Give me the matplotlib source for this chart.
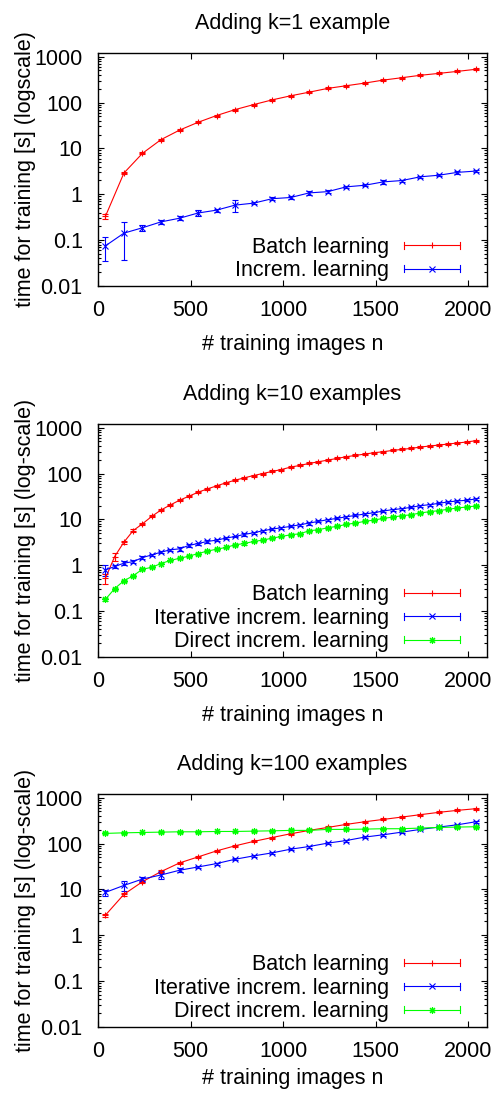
import matplotlib
matplotlib.use('Agg')
import matplotlib.pyplot as plt
from matplotlib.lines import Line2D
from matplotlib.legend_handler import HandlerBase
from matplotlib.ticker import LogLocator, NullFormatter, FixedLocator

plt.rcParams['font.family'] = ['Liberation Sans', 'DejaVu Sans']
FS = 15.5

# ---- data: panel 1 (k=1) ----
n_k1 = [40, 140, 240, 340, 440, 540, 640, 740, 840, 940, 1040,
        1140, 1240, 1340, 1440, 1540, 1640, 1740, 1840, 1940, 2040]
batch_k1 = [0.33, 2.9, 7.8, 15.5, 25, 37, 52, 70, 90, 114, 140,
            168, 203, 232, 265, 308, 347, 392, 431, 477, 530]
batch_k1_err = [0.035, 0.15, 0.4, 0.8, 1.2, 1.8, 2.5, 3.5, 4.5, 5.5, 7,
                8, 10, 11, 13, 15, 17, 19, 21, 23, 26]
incr_k1 = [0.075, 0.142, 0.186, 0.25, 0.30, 0.39, 0.45, 0.58, 0.64, 0.80, 0.85,
           1.07, 1.14, 1.45, 1.57, 1.86, 1.99, 2.4, 2.6, 3.0, 3.2]
incr_k1_err = [0.04, 0.105, 0.03, 0.02, 0.03, 0.06, 0.03, 0.17, 0.04, 0.06, 0.05,
               0.09, 0.07, 0.09, 0.09, 0.16, 0.1, 0.15, 0.13, 0.2, 0.18]

# ---- data: panel 2 (k=10) ----
n_k10 = [40, 90, 140, 190, 240, 290, 340, 390, 440, 490, 540, 590, 640, 690,
         740, 790, 840, 890, 940, 990, 1040, 1090, 1140, 1190, 1240, 1290,
         1340, 1390, 1440, 1490, 1540, 1590, 1640, 1690, 1740, 1790, 1840,
         1890, 1940, 1990, 2040]
batch_k10 = [0.52, 1.55, 3.19, 5.7, 8.0, 11.6, 16.0, 20.6, 26.1, 31.9, 39.0,
             46.1, 53.7, 62.5, 71.5, 80.4, 90.4, 100, 111, 122, 138, 150, 166,
             180, 196, 213, 232, 248, 265, 284, 298, 319, 335, 353, 377, 397,
             417, 439, 462, 486, 519]
batch_k10_err = [0.13, 0.3, 0.25, 0.4, 0.4, 0.6, 0.8, 1.0, 1.3, 1.6, 2.0, 2.3,
                 2.7, 3.1, 3.6, 4.0, 4.5, 5, 5.5, 6, 7, 7.5, 8, 9, 10, 11, 12,
                 12, 13, 14, 15, 16, 17, 18, 19, 20, 21, 22, 23, 24, 26]
iter_k10 = [0.79, 0.94, 1.11, 1.2, 1.47, 1.68, 1.93, 2.17, 2.28, 2.7, 2.98,
            3.3, 3.53, 3.9, 4.24, 4.7, 5.1, 5.65, 6.14, 6.57, 7.03, 7.64, 8.3,
            9.04, 9.84, 10.5, 11.4, 12.2, 13.1, 14.0, 15.2, 16.3, 17.1, 18.3,
            19.9, 20.9, 22.4, 24.0, 25.2, 26.1, 27.9]
iter_k10_err = [0.2, 0.06, 0.12, 0.08, 0.1, 0.08, 0.1, 0.12, 0.2, 0.15, 0.15,
                0.2, 0.2, 0.2, 0.2, 0.25, 0.25, 0.3, 0.3, 0.35, 0.35, 0.4, 0.6,
                0.45, 0.5, 0.5, 0.55, 0.6, 0.65, 0.7, 0.75, 0.8, 0.85, 0.9, 1.0,
                1.0, 1.1, 1.2, 1.3, 1.3, 1.4]
direct_k10 = [0.18, 0.31, 0.46, 0.59, 0.82, 0.90, 1.09, 1.27, 1.42, 1.57, 1.80,
              2.03, 2.24, 2.44, 2.79, 2.98, 3.30, 3.53, 3.90, 4.24, 4.62, 4.85,
              5.65, 5.94, 6.57, 7.03, 7.78, 8.31, 9.04, 9.67, 10.5, 11.2, 12.0,
              12.6, 13.8, 14.7, 15.5, 16.6, 17.7, 18.6, 19.6]
direct_k10_err = [0.01, 0.015, 0.02, 0.03, 0.05, 0.04, 0.05, 0.06, 0.07, 0.08,
                  0.09, 0.1, 0.11, 0.12, 0.14, 0.15, 0.16, 0.18, 0.2, 0.21,
                  0.23, 0.24, 0.3, 0.3, 0.33, 0.35, 0.39, 0.42, 0.45, 0.48,
                  0.5, 0.56, 0.6, 0.63, 0.7, 0.74, 0.78, 0.83, 0.9, 0.93, 1.0]

# ---- data: panel 3 (k=100) ----
n_k100 = n_k1
batch_k100 = [2.74, 7.8, 14.7, 24.4, 37.7, 51, 69, 89, 111, 135, 163,
              193, 224, 261, 298, 335, 377, 425, 478, 528, 574]
batch_k100_err = [0.2, 0.5, 1.2, 1.8, 2, 2.5, 3.5, 4.5, 5.5, 7, 8,
                  10, 11, 13, 15, 17, 19, 21, 24, 26, 29]
iter_k100 = [8.6, 12.2, 16.8, 20.6, 26.1, 30.8, 36.5, 45.4, 53.7, 62.5, 75.2,
             86, 102, 116, 138, 155, 177, 203, 228, 256, 298]
iter_k100_err = [1.3, 3.0, 1.5, 4.0, 2.7, 1.5, 1.8, 2.3, 2.7, 3.1, 3.8,
                 4.3, 5, 6, 7, 8, 9, 10, 11, 13, 15]
direct_k100 = [166, 171, 174, 177, 180, 180, 183, 183, 186, 189, 193,
               193, 203, 203, 206, 210, 210, 217, 224, 228, 232]
direct_k100_err = [8, 8, 8, 9, 9, 9, 9, 9, 9, 9, 10,
                   10, 10, 10, 10, 10, 11, 11, 11, 11, 12]

RED = '#ff0000'
BLUE = '#0000ff'
GREEN = '#00ff00'
ASTER = (8, 2, 0)


class HandlerGnuErr(HandlerBase):
    # gnuplot style key sample: line with end caps and point in the middle
    def create_artists(self, legend, orig, xdescent, ydescent, width, height,
                       fontsize, trans):
        y = height / 2 - ydescent
        x0, x1 = -xdescent, width - xdescent
        c = orig.get_color()
        arts = [Line2D([x0, x1], [y, y], color=c, lw=0.8),
                Line2D([x0, x0], [y - 2.5, y + 2.5], color=c, lw=0.8),
                Line2D([x1, x1], [y - 2.5, y + 2.5], color=c, lw=0.8),
                Line2D([(x0 + x1) / 2], [y], color=c, ls='none',
                       marker=orig.get_marker(), ms=orig.get_markersize(),
                       mew=orig.get_markeredgewidth())]
        for a in arts:
            a.set_transform(trans)
        return arts


def draw(ax, x, y, e, color, marker):
    cont = ax.errorbar(x, y, yerr=e, color=color, marker=marker, ms=5, mew=0.8,
                       lw=0.8, elinewidth=0.8, capsize=2, capthick=0.8)
    return cont[0]


def style(ax, title, ylab, xlab_y=-0.205):
    ax.set_yscale('log')
    ax.set_xlim(0, 2100)
    ax.set_ylim(0.01, 1200)
    ax.xaxis.set_major_locator(FixedLocator([0, 500, 1000, 1500, 2000]))
    ax.yaxis.set_major_locator(FixedLocator([0.01, 0.1, 1, 10, 100, 1000]))
    ax.set_yticklabels(['0.01', '0.1', '1', '10', '100', '1000'])
    ax.yaxis.set_minor_locator(LogLocator(base=10, subs=range(2, 10)))
    ax.yaxis.set_minor_formatter(NullFormatter())
    ax.tick_params(which='both', direction='in', top=True, right=True,
                   labelsize=FS, width=0.8)
    ax.tick_params(which='major', length=4)
    ax.tick_params(which='minor', length=2)
    ax.tick_params(axis='y', pad=11)
    ax.tick_params(axis='x', pad=10)
    for s in ax.spines.values():
        s.set_linewidth(1.0)
    ax.set_title(title, fontsize=FS, pad=17)
    ax.set_ylabel(ylab, fontsize=FS)
    ax.set_xlabel('# training images n', fontsize=FS)
    ax.yaxis.set_label_coords(-0.16, 0.5)
    ax.xaxis.set_label_coords(0.5, xlab_y)


fig = plt.figure(figsize=(4.97, 10.93), dpi=100)
L, W, H = 98 / 497, 389 / 497, 233 / 1093
ax1 = fig.add_axes([L, 1 - 286 / 1093, W, H])
ax2 = fig.add_axes([L, 1 - 657 / 1093, W, H])
ax3 = fig.add_axes([L, 1 - 1027 / 1093, W, H])

h1 = [draw(ax1, n_k1, batch_k1, batch_k1_err, RED, '+'),
      draw(ax1, n_k1, incr_k1, incr_k1_err, BLUE, 'x')]
lab1 = ['Batch learning', 'Increm. learning']
style(ax1, 'Adding k=1 example', 'time for training [s] (logscale)')

h2 = [draw(ax2, n_k10, batch_k10, batch_k10_err, RED, '+'),
      draw(ax2, n_k10, iter_k10, iter_k10_err, BLUE, 'x'),
      draw(ax2, n_k10, direct_k10, direct_k10_err, GREEN, ASTER)]
lab2 = ['Batch learning', 'Iterative increm. learning', 'Direct increm. learning']
style(ax2, 'Adding k=10 examples', 'time for training [s] (log-scale)')

h3 = [draw(ax3, n_k100, batch_k100, batch_k100_err, RED, '+'),
      draw(ax3, n_k100, iter_k100, iter_k100_err, BLUE, 'x'),
      draw(ax3, n_k100, direct_k100, direct_k100_err, GREEN, ASTER)]
lab3 = lab2
style(ax3, 'Adding k=100 examples', 'time for training [s] (log-scale)', -0.175)

for ax, hs, labs in [(ax1, h1, lab1), (ax2, h2, lab2), (ax3, h3, lab3)]:
    ax.legend(hs, labs, loc='lower right', bbox_to_anchor=(0.931, 0.02),
              frameon=False, markerfirst=False, fontsize=FS, borderpad=0,
              borderaxespad=0, handlelength=2.6, handletextpad=0.7,
              labelspacing=0.12, handler_map={Line2D: HandlerGnuErr()})

fig.savefig('out.png', dpi=100)
